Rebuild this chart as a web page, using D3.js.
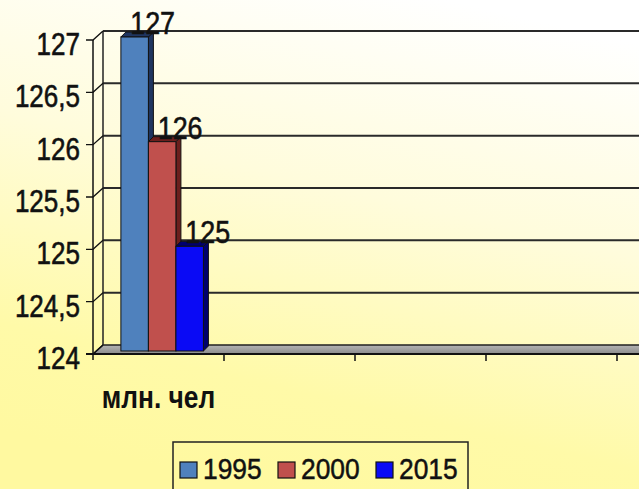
<!DOCTYPE html>
<html>
<head>
<meta charset="utf-8">
<script src="https://cdn.jsdelivr.net/npm/d3@7"></script>
<style>
  body { margin: 0; }
  svg { display: block; font-family: "Liberation Sans", Arial, sans-serif; }
</style>
</head>
<body>
<script>
// data (the empty slots are blank categories on the axis)
var categories = ["млн. чел", " ", "  ", "   ", "    "];
var series = ["1995", "2000", "2015"];
var values = [127, 126, 125];
var yTicks = [124, 124.5, 125, 125.5, 126, 126.5, 127];
var tickLabels = ["124", "124,5", "125", "125,5", "126", "126,5", "127"];

var width = 639,
  height = 489;

var colors = ["#4f81bd", "#c0504d", "#0a0af5"];
var darks = ["#1f3560", "#6b1f1d", "#00006e"];

// depth offsets for the fake 3d
var wallDx = 10, wallDy = -9;
var barDx = 3, barDy = -3;
var barSx = 5, barSy = -5;
var sx = 0.84;

var svg = d3.select("body").append("svg")
  .attr("width", width)
  .attr("height", height);

var defs = svg.append("defs");
var bg = defs.append("linearGradient").attr("id", "bg")
  .attr("x1", "0.7").attr("y1", "0").attr("x2", "0.4").attr("y2", "1");
bg.append("stop").attr("offset", "0").attr("stop-color", "#ffffff");
bg.append("stop").attr("offset", "0.4").attr("stop-color", "#fffcdc");
bg.append("stop").attr("offset", "0.8").attr("stop-color", "#fffaa8");
bg.append("stop").attr("offset", "1").attr("stop-color", "#fff9a0");

var fl = defs.append("linearGradient").attr("id", "floor")
  .attr("x1", "0").attr("y1", "0").attr("x2", "0").attr("y2", "1");
fl.append("stop").attr("offset", "0").attr("stop-color", "#b4b4b4");
fl.append("stop").attr("offset", "1").attr("stop-color", "#8c8c8c");

svg.append("rect")
  .attr("width", width)
  .attr("height", height)
  .attr("fill", "url(#bg)");

var y = d3.scaleLinear()
  .domain([124, 127])
  .range([354, 40]);

var x = d3.scaleBand()
  .domain(categories)
  .range([93, 93 + 131 * categories.length]);

var x1 = d3.scaleBand()
  .domain(series)
  .range([x.bandwidth() * 0.19, x.bandwidth() * 0.82]);

var xEnd = x.range()[1];

// floor
svg.append("path")
  .attr("d", "M" + x.range()[0] + "," + y(124) +
    "L" + (x.range()[0] + wallDx) + "," + (y(124) + wallDy) +
    "L" + (xEnd + wallDx) + "," + (y(124) + wallDy) +
    "L" + xEnd + "," + y(124) + "Z")
  .attr("fill", "url(#floor)")
  .attr("stroke", "#222")
  .attr("stroke-width", 1.5);

// wall gridlines
svg.selectAll(".grid")
  .data(yTicks.slice(1))
  .enter().append("line")
    .attr("class", "grid")
    .attr("x1", x.range()[0] + wallDx)
    .attr("x2", xEnd + wallDx)
    .attr("y1", function(d) { return y(d) + wallDy; })
    .attr("y2", function(d) { return y(d) + wallDy; })
    .attr("stroke", "#2a2a2a")
    .attr("stroke-width", 2);

svg.append("line")
  .attr("x1", x.range()[0] + wallDx).attr("x2", x.range()[0] + wallDx)
  .attr("y1", y(127) + wallDy).attr("y2", y(124) + wallDy)
  .attr("stroke", "#222").attr("stroke-width", 1.5);

// front axis
svg.append("line")
  .attr("x1", 93).attr("x2", 93)
  .attr("y1", y(127)).attr("y2", y(124) + 6)
  .attr("stroke", "#111").attr("stroke-width", 1.5);

svg.selectAll(".ytick")
  .data(yTicks)
  .enter().append("path")
    .attr("class", "ytick")
    .attr("d", function(d) {
      return "M86," + y(d) + "L93," + y(d) + "L" + (93 + wallDx) + "," + (y(d) + wallDy);
    })
    .attr("fill", "none")
    .attr("stroke", "#111")
    .attr("stroke-width", 1.3);

svg.selectAll(".ylab")
  .data(yTicks)
  .enter().append("text")
    .attr("class", "ylab")
    .attr("transform", function(d) { return "translate(80," + (y(d) + 15) + ") scale(" + sx + ",1)"; })
    .attr("text-anchor", "end")
    .style("font-size", "31px")
    .attr("fill", "#111")
    .attr("stroke", "#111")
    .attr("stroke-width", 0.6)
    .text(function(d, i) { return tickLabels[i]; });

// x axis line and ticks
svg.append("line")
  .attr("x1", 86).attr("x2", xEnd)
  .attr("y1", y(124)).attr("y2", y(124))
  .attr("stroke", "#111").attr("stroke-width", 2);

svg.selectAll(".xtick")
  .data(categories.map(function(c) { return x(c) + x.bandwidth(); }))
  .enter().append("line")
    .attr("class", "xtick")
    .attr("x1", function(d) { return d; }).attr("x2", function(d) { return d; })
    .attr("y1", y(124)).attr("y2", y(124) + 7)
    .attr("stroke", "#111").attr("stroke-width", 1.5);

// bars
var bars = svg.selectAll(".bar")
  .data(values)
  .enter().append("g")
    .attr("class", "bar");

function bx(i) { return x(categories[0]) + x1(series[i]) + barDx; }

bars.append("path")
  .attr("d", function(d, i) {
    var xl = bx(i), xr = xl + x1.bandwidth(), t = y(d) + barDy, b = y(124) + barDy;
    return "M" + xr + "," + t + "L" + (xr + barSx) + "," + (t + barSy) +
      "L" + (xr + barSx) + "," + (b + barSy) + "L" + xr + "," + b + "Z";
  })
  .attr("fill", function(d, i) { return darks[i]; })
  .attr("stroke", "#111").attr("stroke-width", 1);

bars.append("path")
  .attr("d", function(d, i) {
    var xl = bx(i), xr = xl + x1.bandwidth(), t = y(d) + barDy;
    return "M" + xl + "," + t + "L" + (xl + barSx) + "," + (t + barSy) +
      "L" + (xr + barSx) + "," + (t + barSy) + "L" + xr + "," + t + "Z";
  })
  .attr("fill", function(d, i) { return darks[i]; })
  .attr("stroke", "#111").attr("stroke-width", 1);

bars.append("rect")
  .attr("x", function(d, i) { return bx(i); })
  .attr("y", function(d) { return y(d) + barDy; })
  .attr("width", x1.bandwidth())
  .attr("height", function(d) { return y(124) - y(d); })
  .attr("fill", function(d, i) { return colors[i]; })
  .attr("stroke", "#111").attr("stroke-width", 1);

// value labels
svg.selectAll(".vlab")
  .data(values)
  .enter().append("text")
    .attr("class", "vlab")
    .attr("transform", function(d, i) {
      return "translate(" + (bx(i) + x1.bandwidth() / 2 + 18) + "," + (y(d) - 6) + ") scale(" + sx + ",1)";
    })
    .attr("text-anchor", "middle")
    .style("font-size", "32px")
    .attr("fill", "#111")
    .attr("stroke", "#111")
    .attr("stroke-width", 0.6)
    .text(function(d) { return d; });

// category label
svg.append("text")
  .attr("transform", "translate(" + (x(categories[0]) + x.bandwidth() / 2) + ",408) scale(0.85,1)")
  .attr("text-anchor", "middle")
  .style("font-size", "31px")
  .style("font-weight", "bold")
  .attr("fill", "#111")
  .text(categories[0]);

// legend
var legend = svg.append("g").attr("transform", "translate(173,442)");
legend.append("rect")
  .attr("width", 295).attr("height", 60)
  .attr("fill", "none").attr("stroke", "#222").attr("stroke-width", 1.5);

var item = legend.selectAll(".item")
  .data(series)
  .enter().append("g")
    .attr("class", "item")
    .attr("transform", function(d, i) { return "translate(" + (7 + i * 98) + ",20)"; });

item.append("rect")
  .attr("width", 17).attr("height", 16)
  .attr("fill", function(d, i) { return colors[i]; })
  .attr("stroke", "#111").attr("stroke-width", 1.2);

item.append("text")
  .attr("transform", "translate(23,17) scale(0.88,1)")
  .style("font-size", "30px")
  .attr("fill", "#111")
  .attr("stroke", "#111")
  .attr("stroke-width", 0.5)
  .text(function(d) { return d; });
</script>
</body>
</html>
